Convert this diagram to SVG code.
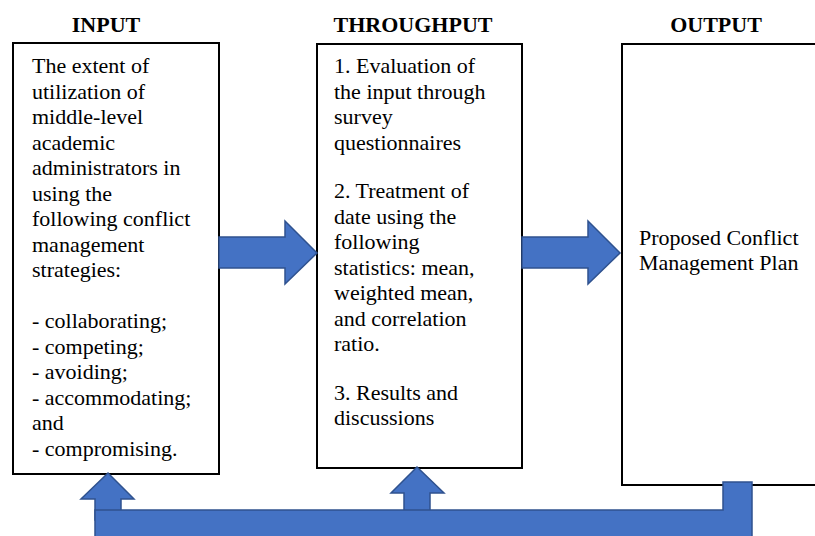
<svg xmlns="http://www.w3.org/2000/svg" width="815" height="536" viewBox="0 0 815 536">
<style>
.box{fill:#fff;stroke:#000;stroke-width:2}
.arr{fill:#4472C4;stroke:#2F528F;stroke-width:1.5;stroke-linejoin:miter}
.hdr{font-family:"Liberation Serif","Times New Roman",serif;font-weight:bold;font-size:22px;fill:#000;text-anchor:middle}
.txt{font-family:"Liberation Serif","Times New Roman",serif;font-size:22px;fill:#000}
</style>
<rect width="815" height="536" fill="#fff"/>
<g id="headers">
<text class="hdr" x="106" y="32">INPUT</text>
<text class="hdr" x="413" y="32">THROUGHPUT</text>
<text class="hdr" x="716" y="32">OUTPUT</text>
</g>
<g id="input">
<rect class="box" x="13" y="43" width="206" height="431"/>
<text class="txt" x="32">
<tspan x="32" y="73">The extent of</tspan>
<tspan x="32" y="98.5">utilization of</tspan>
<tspan x="32" y="124">middle-level</tspan>
<tspan x="32" y="149.5">academic</tspan>
<tspan x="32" y="175">administrators in</tspan>
<tspan x="32" y="200.5">using the</tspan>
<tspan x="32" y="226">following conflict</tspan>
<tspan x="32" y="251.5">management</tspan>
<tspan x="32" y="277">strategies:</tspan>
<tspan x="32" y="328">- collaborating;</tspan>
<tspan x="32" y="353.5">- competing;</tspan>
<tspan x="32" y="379">- avoiding;</tspan>
<tspan x="32" y="404.5">- accommodating;</tspan>
<tspan x="32" y="430">and</tspan>
<tspan x="32" y="455.5">- compromising.</tspan>
</text>
</g>
<g id="throughput">
<rect class="box" x="317" y="44" width="205" height="424"/>
<text class="txt">
<tspan x="334" y="73">1. Evaluation of</tspan>
<tspan x="334" y="98.5">the input through</tspan>
<tspan x="334" y="124">survey</tspan>
<tspan x="334" y="149.5">questionnaires</tspan>
<tspan x="334" y="198">2. Treatment of</tspan>
<tspan x="334" y="223.5">date using the</tspan>
<tspan x="334" y="249">following</tspan>
<tspan x="334" y="274.5">statistics: mean,</tspan>
<tspan x="334" y="300">weighted mean,</tspan>
<tspan x="334" y="325.5">and correlation</tspan>
<tspan x="334" y="351">ratio.</tspan>
<tspan x="334" y="399.5">3. Results and</tspan>
<tspan x="334" y="425">discussions</tspan>
</text>
</g>
<g id="output">
<rect class="box" x="622" y="44" width="200" height="441"/>
<text class="txt">
<tspan x="639" y="245">Proposed Conflict</tspan>
<tspan x="639" y="270">Management Plan</tspan>
</text>
</g>
<g id="connectors">
<polygon class="arr" points="219,237 285,237 285,221 317,253 285,284 285,268 219,268"/>
<polygon class="arr" points="522,237 588,237 588,221 620,253 588,284 588,268 522,268"/>
<polygon class="arr" points="95,520 95,499 81,499 108,473 134,499 121,499 121,520"/>
<polygon class="arr" points="404,520 404,493 391,493 417,467 444,493 430,493 430,520"/>
<polygon class="arr" points="723,482 752,482 752,545 95,545 95,510 723,510"/>
</g>
</svg>
